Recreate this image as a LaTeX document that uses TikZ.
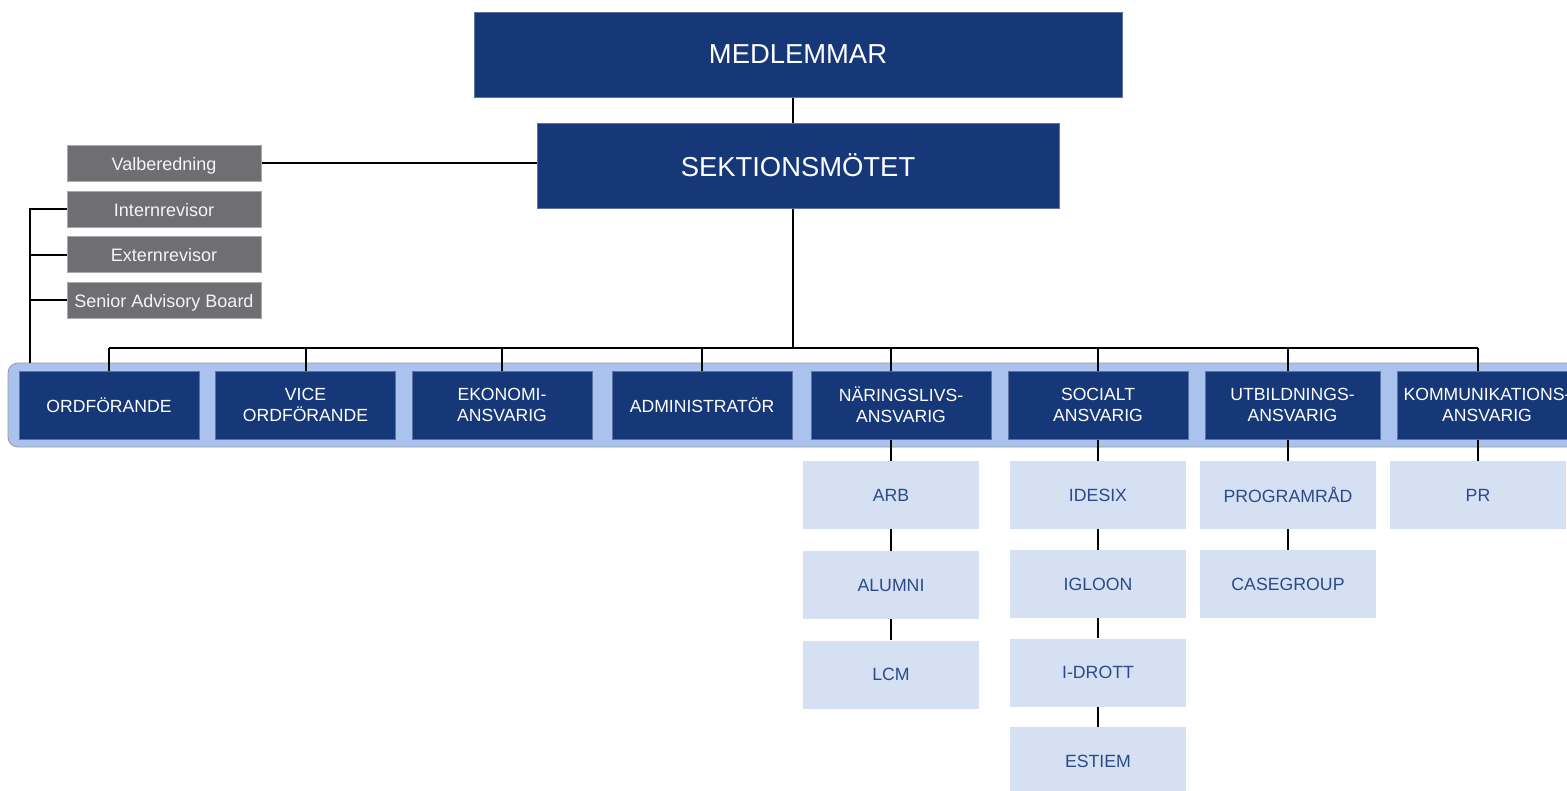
\documentclass[tikz,border=0pt]{standalone}
\usepackage{fontspec}
\setmainfont{Liberation Sans}
\usetikzlibrary{backgrounds}

\definecolor{sektblue}{HTML}{173878}
\definecolor{bandblue}{HTML}{A9C3EE}
\definecolor{grouplight}{HTML}{D5E1F2}
\definecolor{grouptext}{HTML}{2B4A8A}
\definecolor{revgray}{HTML}{6F6F73}

\tikzset{
  topbox/.style={fill=sektblue, draw=sektblue!70!white, text=white,
    font=\fontsize{13.7}{15}\selectfont, minimum height=42.5pt, inner sep=0pt},
  graybox/.style={fill=revgray, draw=revgray!60!white, text=white!92!gray,
    font=\fontsize{9}{11}\selectfont, text height=0.72em, text depth=0pt,
    minimum width=97pt, minimum height=18pt, inner sep=0pt},
  postbox/.style={fill=sektblue, draw=sektblue!70!white, text=white, align=center,
    font=\fontsize{8.8}{10.5}\selectfont, minimum width=90pt, minimum height=34pt, inner sep=0pt},
  groupbox/.style={fill=grouplight, text=grouptext,
    font=\fontsize{8.85}{10}\selectfont, minimum width=88pt, minimum height=34pt, inner sep=0pt},
  conn/.style={line width=1pt, black}
}

\begin{document}
\begin{tikzpicture}[x=0.5pt, y=-0.5pt]
  \useasboundingbox (0,0) rectangle (1567,791);

  % Topp
  \node[topbox, minimum width=324pt] (medlemmar) at (798,54.5) {MEDLEMMAR};
  \node[topbox, minimum width=261pt] (sektion) at (798,165.5) {SEKTIONSMÖTET};

  % Revisorer m.m.
  \node[graybox] (valb) at (164,163) {Valberedning};
  \node[graybox] (intern) at (164,209) {Internrevisor};
  \node[graybox] (extern) at (164,254.5) {Externrevisor};
  \node[graybox] (senior) at (164,300) {Senior Advisory Board};

  % Styrelsen
  \node[postbox] (ord) at (109,405) {ORDFÖRANDE};
  \node[postbox] (vice) at (305.5,405) {VICE\\ORDFÖRANDE};
  \node[postbox] (eko) at (502,405) {EKONOMI-\\ANSVARIG};
  \node[postbox] (adm) at (702,405) {ADMINISTRATÖR};
  \node[postbox] (nar) at (901,405) {NÄRINGSLIVS-\\ANSVARIG};
  \node[postbox] (soc) at (1098,405) {SOCIALT\\ANSVARIG};
  \node[postbox, minimum width=87.5pt] (utb) at (1292.5,405) {UTBILDNINGS-\\ANSVARIG};
  \node[postbox] (kom) at (1487,405) {KOMMUNIKATIONS-\\ANSVARIG};

  % Utskott
  \node[groupbox] (arb) at (891,495) {ARB};
  \node[groupbox] (alumni) at (891,585) {ALUMNI};
  \node[groupbox] (lcm) at (891,674.5) {LCM};
  \node[groupbox] (idesix) at (1098,495) {IDESIX};
  \node[groupbox] (igloon) at (1098,584) {IGLOON};
  \node[groupbox] (idrott) at (1098,672.5) {I-DROTT};
  \node[groupbox] (estiem) at (1098,761) {ESTIEM};
  \node[groupbox] (prog) at (1288,495) {PROGRAMRÅD};
  \node[groupbox] (casegroup) at (1288,584) {CASEGROUP};
  \node[groupbox] (pr) at (1478,495) {PR};

  \coordinate (bus) at (793,348);
  \coordinate (bandtop) at (30,363);

  \begin{pgfonlayer}{background}
    % Band
    \draw[fill=bandblue, draw=gray!80, rounded corners=5pt] (8,363) rectangle (1620,447);

    % Linjer
    \draw[conn] (medlemmar.south -| bus) -- (sektion.north -| bus);
    \draw[conn] (valb.east) -- (valb.east -| sektion.west);
    \draw[conn] (intern.west) -| (bandtop);
    \draw[conn] (extern.west) -- (extern.west -| bandtop);
    \draw[conn] (senior.west) -- (senior.west -| bandtop);
    \draw[conn] (sektion.south -| bus) -- (bus);
    \draw[conn] (bus -| ord) -- (bus -| pr);
    \foreach \n in {ord,vice,eko,adm}
      \draw[conn] (bus -| \n) -- (\n);
    \draw[conn] (bus -| arb) -- (arb) -- (alumni) -- (lcm);
    \draw[conn] (bus -| idesix) -- (idesix) -- (igloon) -- (idrott) -- (estiem);
    \draw[conn] (bus -| prog) -- (prog) -- (casegroup);
    \draw[conn] (bus -| pr) -- (pr);
  \end{pgfonlayer}
\end{tikzpicture}
\end{document}
